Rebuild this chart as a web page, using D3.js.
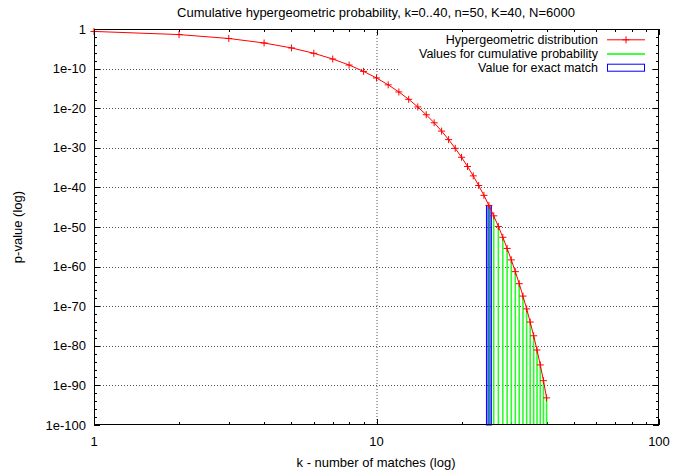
<!DOCTYPE html>
<html><head><meta charset="utf-8">
<script src="https://cdn.jsdelivr.net/npm/d3@7"></script>
<style>body{margin:0;background:#fff}svg{display:block;font-family:"Liberation Sans",Arial,sans-serif}</style>
</head><body><svg id="c" width="673" height="473"></svg>
<script>
const title = "Cumulative hypergeometric probability, k=0..40, n=50, K=40, N=6000";
const xLabel = "k - number of matches (log)";
const yLabel = "p-value (log)";
const kValues = [1,2,3,4,5,6,7,8,9,10,11,12,13,14,15,16,17,18,19,20,21,22,23,24,25,26,27,28,29,30,31,32,33,34,35,36,37,38,39,40];
const pValues = [2.418e-1,3.909e-2,4.020e-3,2.955e-4,1.654e-5,7.34e-7,2.652e-8,7.948e-10,2.005e-11,4.305e-13,
 7.932e-15,1.262e-16,1.744e-18,2.101e-20,2.213e-22,2.043e-24,1.654e-26,1.176e-28,7.354e-31,4.036e-33,
 1.943e-35,8.207e-38,3.031e-40,9.771e-43,2.739e-45,6.655e-48,1.395e-50,2.509e-53,3.846e-56,4.985e-59,
 5.414e-62,4.869e-65,3.575e-68,2.105e-71,9.713e-75,3.403e-78,8.660e-82,1.494e-85,1.546e-89,7.145e-94];
const cumulativeK = [25,26,27,28,29,30,31,32,33,34,35,36,37,38,39,40];
const exactK = 25;
const xTicks = [1,10,100];
const yTickExps = [0,-10,-20,-30,-40,-50,-60,-70,-80,-90,-100];
const yTickLabels = ["1","1e-10","1e-20","1e-30","1e-40","1e-50","1e-60","1e-70","1e-80","1e-90","1e-100"];
const legendLabels = ["Hypergeometric distribution","Values for cumulative probability","Value for exact match"];

const L=94,R=659,T=29,B=425,FS=13;
const svg=d3.select("#c");
const x=d3.scaleLog().domain([1,100]).range([L,R]);
const y=d3.scaleLog().domain([1e-100,1]).range([B,T]);
const pOf=k=>pValues[kValues.indexOf(k)];

// grid
const g=svg.append("g");
g.selectAll(".gx").data(xTicks.slice(1,-1)).join("line")
 .attr("x1",d=>x(d)+0.5).attr("x2",d=>x(d)+0.5).attr("y1",T).attr("y2",B)
 .attr("stroke","#555").attr("stroke-width",1).attr("stroke-dasharray","1,2");
g.selectAll(".gy").data(yTickExps.slice(1,-1)).join("line")
 .attr("x1",L).attr("x2",R).attr("y1",d=>Math.round(y(Math.pow(10,d)))+0.5).attr("y2",d=>Math.round(y(Math.pow(10,d)))+0.5)
 .attr("stroke","#555").attr("stroke-width",1).attr("stroke-dasharray","1,2");

// opaque key background
svg.append("rect").attr("x",400).attr("y",31).attr("width",251).attr("height",42).attr("fill","#fff");

// ticks
const minorX=[];
for(const dec of [1,10]) for(let m=2;m<=9;m++) minorX.push(dec*m);
const ticks=svg.append("g").attr("stroke","#000").attr("stroke-width",1);
function xt(v,len){
 ticks.append("line").attr("x1",Math.round(x(v))+0.5).attr("x2",Math.round(x(v))+0.5).attr("y1",B).attr("y2",B-len);
 ticks.append("line").attr("x1",Math.round(x(v))+0.5).attr("x2",Math.round(x(v))+0.5).attr("y1",T).attr("y2",T+len);
}
xTicks.forEach(v=>xt(v,6)); minorX.forEach(v=>xt(v,3));
function yt(e,len){
 const yy=Math.round(y(Math.pow(10,e)))+0.5;
 ticks.append("line").attr("x1",L).attr("x2",L+len).attr("y1",yy).attr("y2",yy);
 ticks.append("line").attr("x1",R).attr("x2",R-len).attr("y1",yy).attr("y2",yy);
}
for(let e=0;e>=-100;e-=2){ yt(e, e%10===0?6:3); }

// impulses
svg.append("g").selectAll("line").data(cumulativeK).join("line")
 .attr("x1",d=>x(d)).attr("x2",d=>x(d)).attr("y1",B).attr("y2",d=>y(pOf(d)))
 .attr("stroke","#00ff00").attr("stroke-width",1.6).attr("stroke-opacity",0.85);
// exact box
svg.append("rect").attr("x",x(exactK-0.5)).attr("width",x(exactK+0.5)-x(exactK-0.5))
 .attr("y",y(pOf(exactK))).attr("height",B-y(pOf(exactK)))
 .attr("fill","rgba(0,0,255,0.5)").attr("stroke","#0000ff").attr("stroke-width",1);
// line
const line=d3.line().x((d,i)=>x(kValues[i])).y(d=>y(d));
svg.append("path").attr("d",line(pValues)).attr("fill","none").attr("stroke","#ff0000").attr("stroke-width",1);
svg.append("g").selectAll("path").data(pValues).join("path")
 .attr("d",(d,i)=>{const cx=x(kValues[i]),cy=y(d);return `M${cx-3.5},${cy}H${cx+3.5}M${cx},${cy-3.5}V${cy+3.5}`;})
 .attr("stroke","#ff0000").attr("stroke-width",1);

// border
svg.append("rect").attr("x",L+0.5).attr("y",T+0.5).attr("width",R-L-1).attr("height",B-T-1)
 .attr("fill","none").attr("stroke","#000").attr("stroke-width",1);

// tick labels
svg.append("g").selectAll("text").data(xTicks).join("text")
 .attr("x",d=>x(d)).attr("y",446).attr("text-anchor","middle").attr("font-size",FS).text(d=>d);
svg.append("g").selectAll("text").data(yTickExps).join("text")
 .attr("x",86).attr("y",d=>y(Math.pow(10,d))+4.5).attr("text-anchor","end").attr("font-size",FS)
 .text((d,i)=>yTickLabels[i]);

svg.append("text").attr("x",376).attr("y",17).attr("text-anchor","middle").attr("font-size",FS).text(title);
svg.append("text").attr("x",376).attr("y",467).attr("text-anchor","middle").attr("font-size",FS).text(xLabel);
svg.append("text").attr("transform","translate(22,227) rotate(-90)").attr("text-anchor","middle").attr("font-size",FS).text(yLabel);

// legend
const LFS=12.5;
const lg=svg.append("g");
const ly=[39.3,53.5,67.7];
legendLabels.forEach((t,i)=>{
 lg.append("text").attr("x",598).attr("y",ly[i]+4.3).attr("text-anchor","end").attr("font-size",LFS).text(t);
});
lg.append("line").attr("x1",607).attr("x2",645).attr("y1",ly[0]+0.5).attr("y2",ly[0]+0.5).attr("stroke","#ff0000");
lg.append("path").attr("d",`M${626-3.5},${ly[0]+0.5}H${626+3.5}M${626},${ly[0]-3}V${ly[0]+4}`).attr("stroke","#ff0000");
lg.append("line").attr("x1",607).attr("x2",645).attr("y1",ly[1]+0.5).attr("y2",ly[1]+0.5).attr("stroke","#00ff00").attr("stroke-width",1.5);
lg.append("rect").attr("x",607.5).attr("y",ly[2]-3.5).attr("width",37).attr("height",7).attr("fill","none").attr("stroke","#0000ff");
</script></body></html>
